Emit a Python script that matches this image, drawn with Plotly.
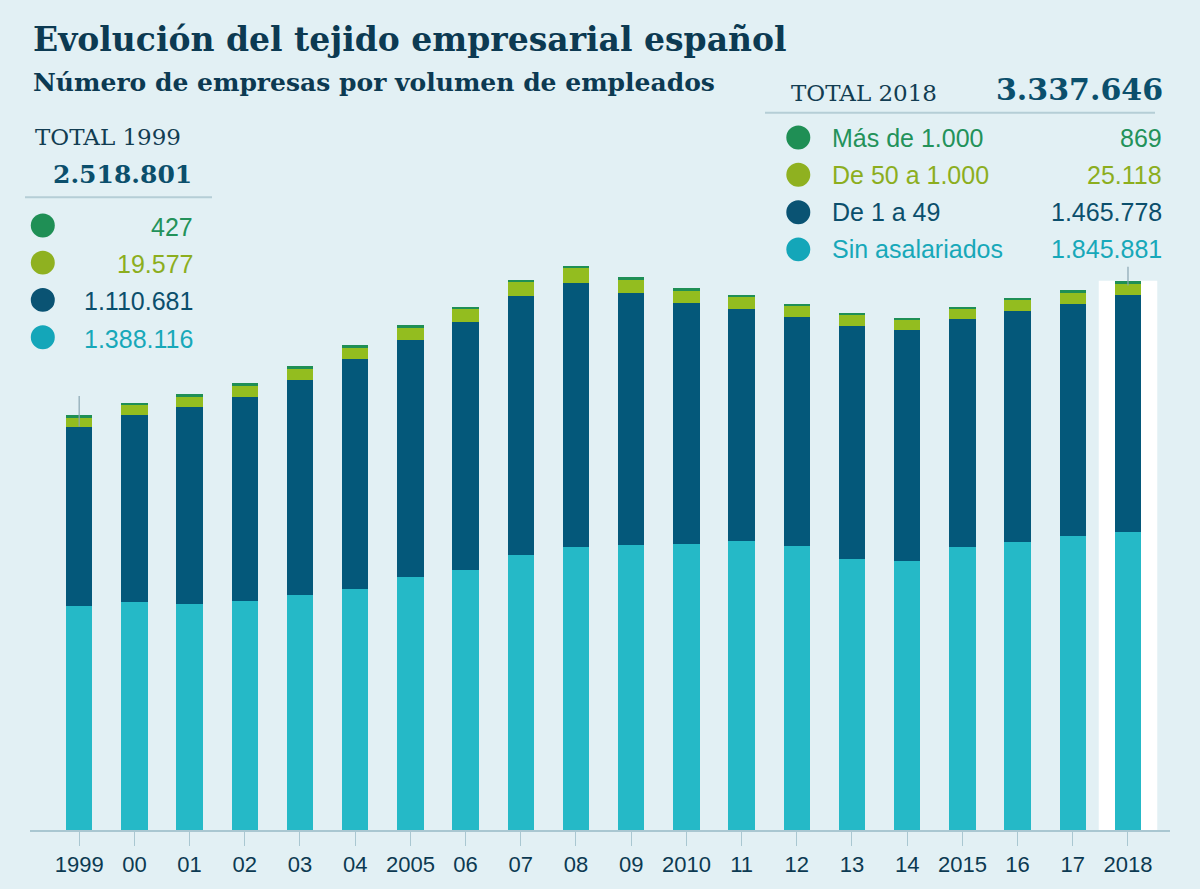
import plotly.graph_objects as go

# Datos (número de empresas, tal como se dibujan las barras)
years = ["1999", "2000", "2001", "2002", "2003", "2004", "2005", "2006", "2007", "2008",
         "2009", "2010", "2011", "2012", "2013", "2014", "2015", "2016", "2017", "2018"]
tick_labels = ["1999", "00", "01", "02", "03", "04", "2005", "06", "07", "08",
               "09", "2010", "11", "12", "13", "14", "2015", "16", "17", "2018"]

sin_asalariados = [1388116, 1411000, 1402000, 1419000, 1454000, 1495000, 1569000, 1610000, 1701000, 1752000,
                   1764000, 1771000, 1789000, 1760000, 1678000, 1668000, 1750000, 1785000, 1822000, 1845881]
de_1_a_49 = [1110681, 1160000, 1220000, 1265000, 1333000, 1421000, 1466000, 1536000, 1606000, 1639000,
             1565000, 1495000, 1436000, 1415000, 1445000, 1429000, 1415000, 1428000, 1437000, 1465778]
de_50_a_1000 = [59000, 63500, 65400, 71500, 73400, 75900, 80200, 82000, 88200, 94400,
                83900, 78300, 77700, 73400, 69700, 65400, 65400, 71500, 72200, 75900]
mas_de_1000 = [11000] * 20

# Textos de los recuadros
total_1999 = "2.518.801"
valores_1999 = ["427", "19.577", "1.110.681", "1.388.116"]
total_2018 = "3.337.646"
valores_2018 = ["869", "25.118", "1.465.778", "1.845.881"]
categorias = ["Más de 1.000", "De 50 a 1.000", "De 1 a 49", "Sin asalariados"]

C_GREEN = "#1f8f55"
C_LIME = "#93bd1f"
C_DARK = "#04587a"
C_TEAL = "#25b9c7"
dot_colors = [C_GREEN, "#8fb120", "#0a5373", "#14a6b9"]
text_colors = ["#23925a", "#8cae1e", "#0b4f6c", "#17a8b9"]
BG = "#e2f0f4"
NAVY = "#0c3a52"
LINE = "#a9c7d1"

W, H = 1200, 889
ML, MR, MT, MB = 30, 30, 100, 56
PW, PH = W - ML - MR, H - MT - MB


def px(x):
    return (x - ML) / PW


def py(y):
    return (H - MB - y) / PH


fig = go.Figure()
for vals, col in [(sin_asalariados, C_TEAL), (de_1_a_49, C_DARK),
                  (de_50_a_1000, C_LIME), (mas_de_1000, C_GREEN)]:
    fig.add_trace(go.Bar(x=years, y=vals, width=0.48, marker=dict(color=col, line=dict(width=0)),
                         hoverinfo="x+y"))

top_1999 = sin_asalariados[0] + de_1_a_49[0] + de_50_a_1000[0] + mas_de_1000[0]
top_2018 = sin_asalariados[-1] + de_1_a_49[-1] + de_50_a_1000[-1] + mas_de_1000[-1]

shapes = [
    # banda blanca que resalta 2018
    dict(type="rect", xref="x", yref="y", x0=18.47, x1=19.53, y0=0, y1=top_2018 + 4000,
         fillcolor="white", line=dict(width=0), layer="below"),
    # líneas guía de los totales
    dict(type="line", xref="x", yref="y", x0=0, x1=0,
         y0=sin_asalariados[0] + de_1_a_49[0], y1=top_1999 + 120000,
         line=dict(color="#8aa6b2", width=1.2)),
    dict(type="line", xref="x", yref="y", x0=19, x1=19,
         y0=top_2018 - 25000, y1=top_2018 + 90000,
         line=dict(color="#8aa6b2", width=1.2)),
    # separadores de los recuadros
    dict(type="line", xref="paper", yref="paper", x0=px(25), x1=px(212), y0=py(197.7), y1=py(197.7),
         line=dict(color="#b5ced6", width=2)),
    dict(type="line", xref="paper", yref="paper", x0=px(765), x1=px(1155), y0=py(112.7), y1=py(112.7),
         line=dict(color="#b5ced6", width=2)),
]

ann = []


def text(x, y, t, size, color, family, anchor="left", bold=False):
    ann.append(dict(x=px(x), y=py(y), xref="paper", yref="paper", text=f"<b>{t}</b>" if bold else t,
                    showarrow=False, xanchor=anchor, yanchor="middle",
                    font=dict(size=size, color=color, family=family)))


SERIF = "DejaVu Serif"
SANS = "Liberation Sans"

text(31, 39, "Evolución del tejido empresarial español", 33, NAVY, SERIF, bold=True)
text(31, 82, "Número de empresas por volumen de empleados", 25, NAVY, SERIF, bold=True)

text(33, 137.2, "TOTAL 1999", 23, "#123d52", SERIF)
text(194, 174.5, total_1999, 25, "#0b4f6c", SERIF, anchor="right", bold=True)

text(789, 93.3, "TOTAL 2018", 23, "#123d52", SERIF)
text(1165, 89.5, total_2018, 30, "#0b4f6c", SERIF, anchor="right", bold=True)

left_rows = [226, 263.3, 300.7, 338.3]
right_rows = [137.7, 175, 212.7, 250]
for i in range(4):
    cy = left_rows[i]
    shapes.append(dict(type="circle", xref="paper", yref="paper", x0=px(42.8 - 12), x1=px(42.8 + 12),
                       y0=py(cy + 12), y1=py(cy - 12), fillcolor=dot_colors[i], line=dict(width=0)))
    text(195, cy + 1.5, valores_1999[i], 25, text_colors[i], SANS, anchor="right")

    cy = right_rows[i]
    shapes.append(dict(type="circle", xref="paper", yref="paper", x0=px(798.3 - 12), x1=px(798.3 + 12),
                       y0=py(cy + 12), y1=py(cy - 12), fillcolor=dot_colors[i], line=dict(width=0)))
    text(830, cy, categorias[i], 25, text_colors[i], SANS)
    text(1164, cy, valores_2018[i], 25, text_colors[i], SANS, anchor="right")

fig.update_layout(
    width=W, height=H,
    margin=dict(l=ML, r=MR, t=MT, b=MB),
    paper_bgcolor=BG, plot_bgcolor=BG,
    barmode="stack", showlegend=False,
    shapes=shapes, annotations=ann,
    xaxis=dict(type="category", range=[-0.891, 19.761], tickvals=years, ticktext=tick_labels,
               showgrid=False, zeroline=False, showline=True, linecolor=LINE, linewidth=2,
               ticks="outside", ticklen=14, tickwidth=1.2, tickcolor=LINE,
               tickfont=dict(size=22, color=NAVY, family=SANS)),
    yaxis=dict(range=[0, 4.522e6], visible=False, showgrid=False, zeroline=False),
)

# sin margen de página para que la figura ocupe toda la ventana
fig.write_html("out.html", config={"displayModeBar": False},
               post_script="document.body.style.margin='0';")
